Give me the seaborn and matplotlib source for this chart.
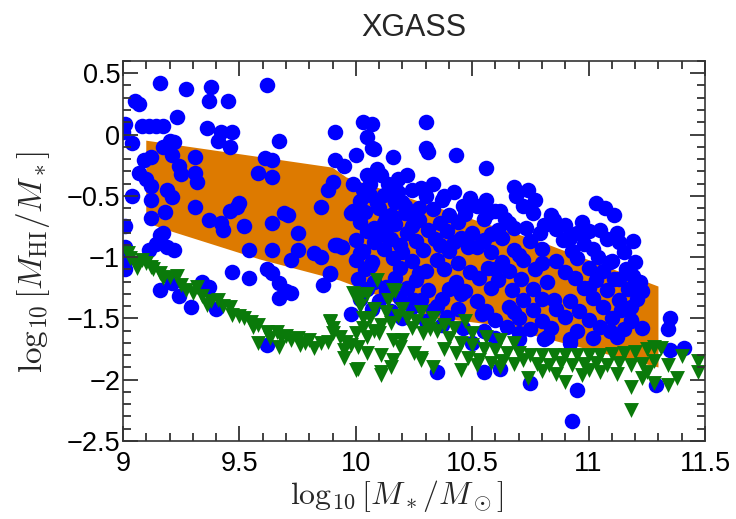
import numpy as np
import pandas as pd
import matplotlib
matplotlib.use("Agg")
import matplotlib.pyplot as plt
import seaborn as sns
from matplotlib.ticker import MultipleLocator, FuncFormatter

# ---------------- data ----------------
title = "XGASS"
xlabel = r"$\log_{10}[M_*/M_\odot]$"
ylabel = r"$\log_{10}[M_{\rm HI}/M_*]$"
x_ticks = [9, 9.5, 10, 10.5, 11, 11.5]
y_ticks = [-2.5, -2, -1.5, -1, -0.5, 0, 0.5]

# orange band (polygon outline)
band_x = [9.10, 9.90, 9.96, 10.80, 11.30, 11.30, 10.58, 10.32, 10.00, 9.93, 9.59, 9.19, 9.10]
band_y = [-0.05, -0.27, -0.35, -0.88, -1.24, -1.90, -1.55, -1.49, -1.24, -1.19, -1.02, -0.78, -0.72]

# detections (blue circles)
det_x = [
    9.16, 9.27, 9.38, 9.37, 9.45, 9.62, 9.05, 9.07, 9.23, 9.01, 9.08, 9.11, 9.14, 9.17, 9.00, 9.04,
    9.36, 9.42, 9.47, 9.41, 9.46, 9.67, 9.91, 9.20, 9.22, 9.17, 9.12, 9.09, 9.21, 9.31, 9.24, 9.25,
    9.31, 9.32, 9.07, 9.10, 9.12, 9.04, 9.12, 9.19, 9.21, 9.12, 9.18, 9.01, 9.31, 9.37, 9.42, 9.43,
    9.46, 9.49, 9.50, 9.52, 9.58, 9.61, 9.64, 9.64, 9.64, 9.69, 9.71, 9.75, 9.85, 9.88, 9.90, 9.99,
    9.99, 9.17, 9.14, 9.19, 9.22, 9.11, 9.01, 9.01, 9.01, 9.54, 9.64, 9.75, 9.72, 9.82, 9.85, 9.92,
    9.94, 9.89, 9.47, 9.62, 9.16, 9.16, 9.21, 9.24, 9.29, 9.34, 9.37, 9.40, 9.54, 9.64, 9.67, 9.70,
    9.67, 9.72, 9.86, 9.62, 9.98, 9.91, 9.95, 10.00, 9.89, 9.91,
    10.03, 10.07, 10.05, 10.30, 10.30, 10.07, 10.16, 10.08, 10.31, 10.43, 10.56, 10.05, 10.09, 10.11,
    10.18, 10.22, 10.24, 10.28, 10.30, 10.38, 10.37, 10.68, 10.74, 10.69, 10.77, 10.72, 10.76, 11.03,
    11.07, 11.11, 11.05, 11.13, 11.19, 10.92, 10.89, 10.81, 10.79, 10.46, 10.52, 10.57, 10.40, 10.44,
    10.50, 10.61, 10.68, 10.73, 9.98, 10.02, 10.06, 10.12, 10.18,
    10.14, 10.20, 10.27, 10.33, 10.42, 10.49, 10.56, 10.60, 10.64, 10.84, 10.90, 10.95,
    10.03, 10.09, 10.15, 10.08, 10.13, 10.02, 10.17, 10.21, 10.25,
    10.06, 10.12, 10.24, 10.19, 10.06, 10.27, 10.13, 10.36, 10.45, 10.52, 10.60, 10.70, 10.80,
    10.45, 10.35, 10.25, 10.68, 10.85, 11.00, 10.54,
    10.04, 10.10, 10.21, 10.33, 10.47, 10.62,
    10.02, 10.13, 10.17, 10.27, 10.36, 10.55, 10.66, 10.85, 10.97,
    10.05, 10.10, 10.22, 10.31, 10.39, 10.58, 10.86, 11.00, 11.12,
    10.00, 10.08, 10.15, 10.26, 10.34, 10.42, 10.55, 10.63, 10.75, 10.98, 11.08,
    10.03, 10.12, 10.20, 10.29, 10.40, 10.48, 10.58, 10.68, 10.80, 10.93, 11.02, 11.15,
    10.00, 10.07, 10.16, 10.24, 10.35, 10.44, 10.63, 10.72, 10.86, 10.95, 11.10, 11.20,
    10.04, 10.19, 10.30, 10.38, 10.49, 10.57, 10.66, 10.77, 10.90, 11.00, 11.06, 11.16,
    10.01, 10.08, 10.17, 10.26, 10.43, 10.53, 10.61, 10.71, 10.82, 10.94, 11.03, 11.11, 11.22,
    10.05, 10.13, 10.22, 10.31, 10.40, 10.47, 10.58, 10.67, 10.76, 10.98, 11.08, 11.17,
    10.02, 10.10, 10.19, 10.28, 10.37, 10.52, 10.72, 10.80, 10.92, 11.02, 11.13, 11.21,
    10.07, 10.15, 10.24, 10.33, 10.44, 10.56, 10.66, 10.76, 10.86, 10.96, 11.06, 11.14,
    10.20, 10.30, 10.39, 10.60, 10.70, 10.80, 10.90, 11.00, 11.10, 11.18,
    10.46, 10.55, 10.65, 10.75, 10.84, 10.95, 11.05, 11.15,
    10.60, 10.70, 10.82, 10.92, 11.02, 11.12,
    11.04, 11.09, 11.13, 11.19, 11.23, 11.18, 11.18, 11.23, 11.35, 11.34, 11.35, 11.41,
    11.29, 10.95, 10.93, 10.75, 10.55, 10.62, 10.35, 10.37, 10.50, 10.70, 10.81, 10.92, 11.09,
]
det_y = [
    0.42, 0.37, 0.39, 0.27, 0.27, 0.40, 0.27, 0.25, 0.14, 0.09, 0.07, 0.07, 0.07, 0.07, 0.02, -0.07,
    0.05, 0.02, 0.02, -0.05, -0.10, -0.05, 0.02, -0.05, -0.06, -0.10, -0.18, -0.21, -0.17, -0.18, -0.26, -0.32,
    -0.31, -0.39, -0.31, -0.36, -0.42, -0.50, -0.53, -0.45, -0.51, -0.68, -0.63, -0.75, -0.59, -0.70, -0.72, -0.78,
    -0.62, -0.59, -0.56, -0.75, -0.31, -0.19, -0.21, -0.35, -0.72, -0.64, -0.66, -0.80, -0.59, -0.45, -0.39, -0.40,
    -0.62, -0.80, -0.89, -0.92, -0.94, -0.94, -0.92, -1.02, -1.10, -0.94, -0.94, -0.94, -1.02, -0.97, -1.00, -0.90,
    -0.92, -1.13, -1.12, -1.10, -0.82, -1.27, -1.21, -1.32, -1.41, -1.20, -1.24, -1.42, -1.17, -1.13, -1.21, -1.28,
    -1.33, -1.29, -1.23, -1.72, -1.46, -0.21, -0.26, -0.17, -1.14, -0.90,
    0.10, 0.09, -0.02, 0.10, -0.11, -0.11, -0.18, -0.12, -0.14, -0.17, -0.27, -0.33, -0.28, -0.33,
    -0.36, -0.33, -0.45, -0.44, -0.50, -0.50, -0.53, -0.43, -0.45, -0.50, -0.53, -0.58, -0.64, -0.56,
    -0.60, -0.66, -0.78, -0.88, -0.87, -0.84, -0.86, -0.74, -0.80, -0.58, -0.58, -0.64, -0.66, -0.71,
    -0.80, -0.78, -0.76, -0.76, -0.64, -0.54, -0.49, -0.49, -0.47,
    -0.40, -0.55, -0.60, -0.40, -0.47, -0.52, -0.53, -0.62, -0.69, -0.66, -0.74, -0.80,
    -0.45, -0.56, -0.66, -0.76, -0.82, -0.97, -0.55, -0.58, -0.68,
    -0.40, -0.72, -0.75, -0.90, -1.07, -1.13, -1.24, -0.90, -0.84, -0.92, -1.10, -0.98, -1.05,
    -1.30, -1.40, -1.35, -1.45, -1.35, -1.25, -1.46,
    -0.63, -0.60, -0.64, -0.61, -0.65, -0.62,
    -0.71, -0.68, -0.73, -0.70, -0.72, -0.69, -0.72, -0.70, -0.71,
    -0.79, -0.77, -0.80, -0.78, -0.79, -0.81, -0.77, -0.79, -0.80,
    -0.86, -0.88, -0.85, -0.87, -0.85, -0.88, -0.86, -0.84, -0.87, -0.89, -0.85,
    -0.95, -0.93, -0.96, -0.94, -0.95, -0.92, -0.96, -0.94, -0.93, -0.95, -0.93, -0.96,
    -1.02, -1.04, -1.01, -1.03, -1.02, -1.05, -1.04, -1.02, -1.03, -1.01, -1.03, -1.04,
    -1.10, -1.09, -1.11, -1.10, -1.12, -1.09, -1.11, -1.10, -1.12, -1.09, -1.11, -1.10,
    -1.18, -1.20, -1.17, -1.19, -1.20, -1.17, -1.19, -1.18, -1.20, -1.17, -1.19, -1.18, -1.20,
    -1.26, -1.28, -1.25, -1.27, -1.26, -1.28, -1.25, -1.27, -1.26, -1.25, -1.27, -1.26,
    -1.34, -1.36, -1.33, -1.35, -1.34, -1.36, -1.35, -1.34, -1.36, -1.33, -1.35, -1.34,
    -1.42, -1.44, -1.41, -1.43, -1.42, -1.44, -1.41, -1.43, -1.42, -1.44, -1.41, -1.43,
    -1.50, -1.52, -1.49, -1.51, -1.50, -1.52, -1.49, -1.51, -1.50, -1.52,
    -1.58, -1.60, -1.57, -1.59, -1.58, -1.60, -1.57, -1.59,
    -1.66, -1.67, -1.65, -1.67, -1.66, -1.65,
    -1.00, -1.04, -1.18, -1.15, -1.28, -1.41, -1.51, -1.58, -1.50, -1.59, -1.76, -1.74,
    -2.04, -2.08, -2.34, -2.03, -1.94, -1.91, -1.94, -1.55, -1.70, -1.62, -1.67, -1.70, -1.60,
]

# non-detections (green downward triangles)
lim_x = [
    9.02, 9.03, 9.06, 9.10, 9.12, 9.06, 9.16, 9.17, 9.23, 9.25, 9.27, 9.32, 9.30, 9.34, 9.36, 9.41,
    9.46, 9.47, 9.52, 9.58, 9.56, 9.58, 9.62, 9.66, 9.68, 9.67, 9.70, 9.75, 9.76, 9.80, 9.82, 9.85,
    9.88, 9.89, 9.90, 9.93, 9.95, 10.01, 9.96, 10.01, 9.95, 10.00,
    9.08, 9.13, 9.20, 9.38, 9.43, 9.50, 9.55, 9.63, 9.72, 9.78,
    10.00, 10.03, 10.09, 10.16, 10.17,
    10.05, 10.10, 10.15, 10.16, 10.11, 10.11, 10.16, 10.19, 10.20, 10.25, 10.28, 10.29, 10.32,
    10.02, 10.05, 9.99, 9.89, 9.90, 10.11, 10.15, 10.28, 10.47, 10.74, 10.90, 10.97,
    11.18, 11.18, 11.23, 11.28, 11.34, 11.34, 11.38, 11.40, 11.47, 11.47, 11.31, 11.28,
    10.35, 10.40, 10.45, 10.50, 10.55, 10.60, 10.65, 10.70, 10.75, 10.80, 10.85, 10.90, 10.95,
    11.00, 11.05, 11.10, 11.15, 11.20, 11.25,
    10.38, 10.43, 10.48, 10.53, 10.58, 10.63, 10.68, 10.72, 10.78, 10.83, 10.88, 10.93, 10.98,
    11.03, 11.08, 11.13, 11.18, 11.23, 11.28,
    10.33, 10.45, 10.52, 10.62, 10.80, 10.86, 11.00, 11.05, 11.12, 11.25,
    10.08, 10.13, 10.18, 10.22, 10.26, 10.06, 10.11, 10.24, 10.30, 10.02, 10.14, 10.20, 10.28,
    10.33, 10.38, 10.42, 10.50, 10.56, 10.62, 10.68, 10.08, 10.03, 10.00, 9.98, 10.05,
]
lim_y = [
    -0.97, -1.01, -1.05, -1.05, -1.08, -1.09, -1.13, -1.17, -1.15, -1.23, -1.27, -1.24, -1.29, -1.32, -1.39, -1.35,
    -1.41, -1.47, -1.50, -1.55, -1.57, -1.70, -1.61, -1.61, -1.65, -1.73, -1.64, -1.66, -1.72, -1.68, -1.74, -1.70,
    -1.69, -1.53, -1.62, -1.65, -1.76, -1.91, -1.69, -1.73, -1.82, -1.92,
    -1.02, -1.10, -1.16, -1.36, -1.40, -1.48, -1.53, -1.66, -1.68, -1.70,
    -1.31, -1.50, -1.19, -1.27, -1.28,
    -1.65, -1.62, -1.54, -1.68, -1.80, -1.94, -1.84, -1.73, -1.68, -1.78, -1.84, -1.62, -1.59,
    -1.33, -1.30, -1.29, -1.52, -1.58, -1.96, -1.90, -1.82, -1.52, -1.99, -2.02, -1.96,
    -2.06, -2.25, -1.99, -2.03, -1.88, -2.04, -1.99, -1.81, -1.85, -1.94, -1.74, -1.73,
    -1.60, -1.66, -1.70, -1.72, -1.75, -1.76, -1.78, -1.78, -1.80, -1.80, -1.80, -1.80, -1.80,
    -1.80, -1.80, -1.79, -1.78, -1.77, -1.75,
    -1.75, -1.78, -1.82, -1.84, -1.86, -1.85, -1.87, -1.84, -1.87, -1.88, -1.86, -1.88, -1.87,
    -1.86, -1.88, -1.86, -1.88, -1.87, -1.85,
    -1.90, -1.92, -1.88, -1.90, -1.93, -1.95, -1.92, -1.94, -1.95, -1.94,
    -1.42, -1.45, -1.48, -1.50, -1.52, -1.50, -1.55, -1.58, -1.55, -1.40, -1.35, -1.42, -1.45,
    -1.50, -1.55, -1.58, -1.62, -1.65, -1.68, -1.70, -1.60, -1.58, -1.62, -1.72, -1.78,
]

det = pd.DataFrame({"x": det_x, "y": det_y})
lim = pd.DataFrame({"x": lim_x, "y": lim_y})

# ---------------- style ----------------
sns.set_style("ticks")
plt.rcParams.update({
    "font.family": ["Liberation Sans", "DejaVu Sans"],
    "mathtext.fontset": "cm",
    "axes.unicode_minus": True,
    "axes.axisbelow": False,
})

fig = plt.figure(figsize=(7.36, 5.19), dpi=100)
ax = fig.add_axes([0.1671, 0.1503, 0.7908, 0.7322])

ax.fill(band_x, band_y, color="#dd7a00", linewidth=0, zorder=1)
sns.scatterplot(data=det, x="x", y="y", ax=ax, color="#0000ff", marker="o",
                s=125, linewidth=0, zorder=2, legend=False)
sns.scatterplot(data=lim, x="x", y="y", ax=ax, color="#0a7a0a", marker="v",
                s=115, linewidth=0, zorder=3, legend=False)

ax.set_xlim(9, 11.5)
ax.set_ylim(-2.5, 0.6)
ax.set_xticks(x_ticks)
ax.set_yticks(y_ticks)
ax.xaxis.set_minor_locator(MultipleLocator(0.1))
ax.yaxis.set_minor_locator(MultipleLocator(0.1))
ax.xaxis.set_major_formatter(FuncFormatter(lambda v, p: f"{v:g}"))
ax.yaxis.set_major_formatter(FuncFormatter(lambda v, p: f"{v:g}".replace("-", "\u2212")))

for sp in ax.spines.values():
    sp.set_visible(True)
    sp.set_linewidth(1.2)
    sp.set_color("#333333")
    sp.set_zorder(5)

ax.tick_params(which="both", direction="in", top=True, right=True, bottom=True, left=True,
               color="#333333", labelcolor="black", labelsize=19.5)
ax.tick_params(which="major", length=11, width=1.3)
ax.tick_params(which="minor", length=5.5, width=1.3)
ax.tick_params(axis="x", which="major", pad=7)
ax.tick_params(axis="y", which="major", pad=2)
ax.xaxis.set_zorder(5)
ax.yaxis.set_zorder(5)

ax.set_xlabel(xlabel, fontsize=23)
ax.set_ylabel(ylabel, fontsize=24)
ax.xaxis.set_label_coords(0.471, -0.097)
ax.yaxis.set_label_coords(-0.122, 0.471)
ax.set_title(title, fontsize=22, pad=18)

fig.savefig("out.png", dpi=100)
